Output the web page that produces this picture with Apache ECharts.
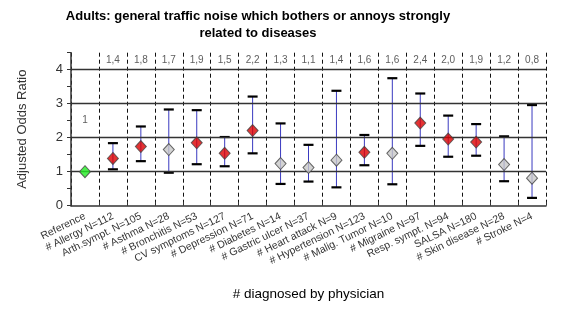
<!DOCTYPE html>
<html><head><meta charset="utf-8">
<script src="https://cdn.jsdelivr.net/npm/echarts@6/dist/echarts.min.js"></script>
<style>html,body{margin:0;padding:0;background:#fff}#c{width:576px;height:322px}</style>
</head><body><div id="c"></div>
<script>
const categories = ['Reference','# Allergy N=112','Arth.sympt. N=105','# Asthma N=28','# Bronchitis N=53','CV symptoms N=127','# Depression N=71','# Diabetes N=14','# Gastric ulcer N=37','# Heart attack N=9','# Hypertension N=123','# Malig. Tumor N=10','# Migraine N=97','Resp. sympt. N=94','SALSA N=180','# Skin disease N=28','# Stroke N=4'];
const oddsRatio = [1.00,1.39,1.74,1.65,1.85,1.54,2.21,1.24,1.12,1.34,1.57,1.54,2.43,1.96,1.87,1.21,0.81];
const lowerCI  = [null,1.07,1.31,0.97,1.22,1.16,1.54,0.64,0.71,0.54,1.19,0.63,1.76,1.44,1.47,0.72,0.23];
const upperCI  = [null,1.84,2.33,2.83,2.81,2.02,3.21,2.42,1.79,3.38,2.08,3.75,3.30,2.65,2.40,2.04,2.96];
const status   = ['ref','sig','sig','ns','sig','sig','sig','ns','ns','ns','sig','ns','sig','sig','sig','ns','ns'];
const orLabels = ['1','1,4','1,8','1,7','1,9','1,5','2,2','1,3','1,1','1,4','1,6','1,6','2,4','2,0','1,9','1,2','0,8'];
const yTicks = [1,2,3,4];

const colorMap = {ref:'#22ee22', sig:'#dd0000', ns:'#c8c8c8'};

const chart = echarts.init(document.getElementById('c'), null, {renderer:'canvas'});
const errData = [];
categories.forEach((c,i)=>{ if(lowerCI[i]!=null) errData.push([i, lowerCI[i], upperCI[i]]); });

chart.setOption({
  animation:false,
  backgroundColor:'#fff',
  title:{
    text:'Adults: general traffic noise which bothers or annoys strongly\nrelated to diseases',
    left:253, top:3, textAlign:'center',
    textStyle:{fontFamily:'Liberation Sans, Arial', fontSize:13, fontWeight:'bold', color:'#000', lineHeight:17}
  },
  grid:{left:71, right:30, top:52.7, bottom:116.3},
  xAxis:{
    type:'category', data:categories, boundaryGap:true,
    axisLine:{lineStyle:{color:'#333', width:1.5}},
    axisTick:{show:true, length:4, inside:true, lineStyle:{color:'#333'}},
    splitLine:{show:true, lineStyle:{color:'#111', type:[4,3], width:1}},
    axisLabel:{rotate:26, interval:0, margin:10, fontFamily:'Liberation Sans, Arial', fontSize:10.5, color:'#333'},
    name:'# diagnosed by physician', nameLocation:'middle', nameGap:82,
    nameTextStyle:{fontFamily:'Liberation Sans, Arial', fontSize:13.5, color:'#000'}
  },
  yAxis:{
    type:'value', min:0, max:4.5, interval:0.5,
    axisLine:{show:true, lineStyle:{color:'#333', width:1.5}},
    axisTick:{show:true, length:4, lineStyle:{color:'#333'}},
    splitLine:{show:false},
    axisLabel:{fontFamily:'Liberation Sans, Arial', fontSize:13, color:'#333', margin:8,
      formatter:v=> (Number.isInteger(v) && v<=4) ? String(v) : ''},
    name:'Adjusted Odds Ratio', nameLocation:'middle', nameGap:42, nameRotate:90,
    nameTextStyle:{fontFamily:'Liberation Sans, Arial', fontSize:13, color:'#333'}
  },
  series:[
    {
      type:'custom', z:3,
      data:errData,
      renderItem:(params, api)=>{
        const lo = api.coord([api.value(0), api.value(1)]);
        const hi = api.coord([api.value(0), api.value(2)]);
        const w = 5;
        return {type:'group', children:[
          {type:'line', shape:{x1:lo[0], y1:lo[1], x2:hi[0], y2:hi[1]}, style:{stroke:'#3a3ac0', lineWidth:1}},
          {type:'line', shape:{x1:lo[0]-w, y1:lo[1], x2:lo[0]+w, y2:lo[1]}, style:{stroke:'#000', lineWidth:2.2}},
          {type:'line', shape:{x1:hi[0]-w, y1:hi[1], x2:hi[0]+w, y2:hi[1]}, style:{stroke:'#000', lineWidth:2.2}}
        ]};
      },
      markLine:{
        silent:true, symbol:'none', label:{show:false},
        lineStyle:{color:'#333', type:'solid', width:1.3},
        data: yTicks.map(v=>({yAxis:v}))
      }
    },
    {
      type:'scatter', z:5, symbol:'diamond', symbolSize:[11,12],
      data: oddsRatio.map((v,i)=>({value:[i,v], itemStyle:{color:colorMap[status[i]], borderColor:'#444', borderWidth:1}}))
    },
    {
      type:'scatter', z:6, symbolSize:0, silent:true,
      data: orLabels.map((t,i)=>[i, i===0 ? 2.5 : 4.27]),
      label:{show:true, position:'inside', fontFamily:'Liberation Sans, Arial', fontSize:10, color:'#333',
        formatter:p=>orLabels[p.dataIndex]}
    }
  ]
});
</script></body></html>
